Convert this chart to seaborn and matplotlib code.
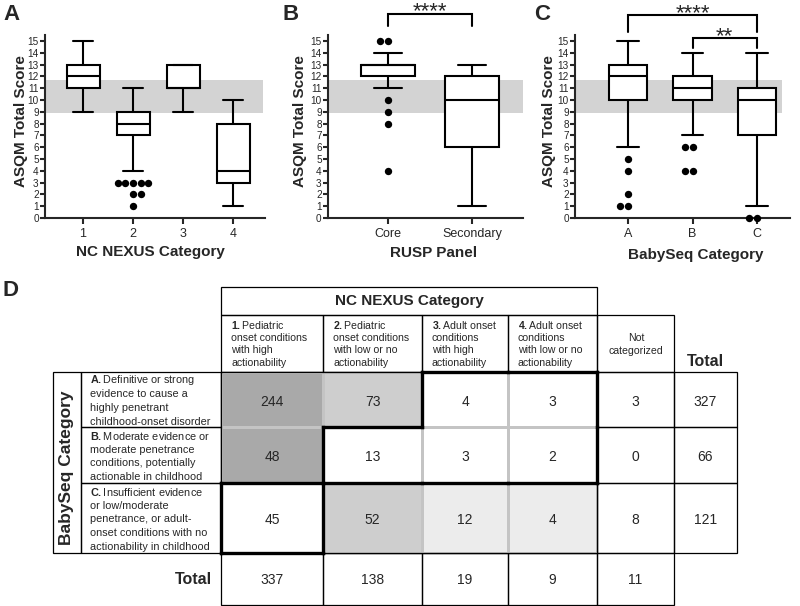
import numpy as np
import pandas as pd
import matplotlib
matplotlib.use("Agg")
import matplotlib.pyplot as plt
from matplotlib.colors import ListedColormap
from matplotlib.patches import Rectangle
import seaborn as sns

# ---- box panels: (min, Q1, median, Q3, max) ----
nexus_cats = ["1", "2", "3", "4"]
nexus_box = [[9, 11, 12, 13, 15],
             [4, 7, 8, 9, 11],
             [9, 11, 11, 13, 13],
             [1, 3, 4, 8, 10]]
nexus_out = {"2": [3, 3, 3, 3, 3, 2, 2, 1]}

rusp_cats = ["Core", "Secondary"]
rusp_box = [[11, 12, 13, 13, 14],
            [1, 6, 10, 12, 13]]
rusp_out = {"Core": [15, 15, 10, 9, 8, 4]}

babyseq_cats = ["A", "B", "C"]
babyseq_box = [[6, 10, 12, 13, 15],
               [7, 10, 11, 12, 14],
               [1, 7, 10, 11, 14]]
babyseq_out = {"A": [5, 4, 2, 1, 1], "B": [6, 6, 4, 4], "C": [0, 0]}

normal_band = (8.9, 11.7)

# ---- panel D table ----
nexus_headers = [
    [r"$\mathbf{1.}$Pediatric", "onset conditions", "with high", "actionability"],
    [r"$\mathbf{2.}$Pediatric", "onset conditions", "with low or no", "actionability"],
    [r"$\mathbf{3.}$Adult onset", "conditions", "with high", "actionability"],
    [r"$\mathbf{4.}$Adult onset", "conditions", "with low or no", "actionability"],
]
row_labels = [
    [r"$\mathbf{A.}$Definitive or strong", "evidence to cause a",
     "highly penetrant", "childhood-onset disorder"],
    [r"$\mathbf{B.}$Moderate evidence or", "moderate penetrance",
     "conditions, potentially", "actionable in childhood"],
    [r"$\mathbf{C.}$Insufficient evidence", "or low/moderate",
     "penetrance, or adult-", "onset conditions with no",
     "actionability in childhood"],
]
counts = np.array([[244, 73, 4, 3, 3],
                   [48, 13, 3, 2, 0],
                   [45, 52, 12, 4, 8]])
row_totals = [327, 66, 121]
col_totals = [337, 138, 19, 9, 11]
# concordance shading of the NC NEXUS x BabySeq cells (0 none .. 3)
shade = np.array([[2, 1, 0, 0],
                  [2, 0, 0, 0],
                  [0, 1, 3, 3]])
shade_colors = ["white", "#cecece", "#a9a9a9", "#ececec"]
# cells outlined with a heavy border
outlined = [[(0, 2), (0, 3), (1, 1), (1, 2), (1, 3)], [(2, 0)]]

# layout (pixels)
W, H = 800, 606
col_edges = [221, 323, 422, 508, 597, 674, 737]
row_edges = [372, 427, 483, 553, 605]

sns.set_style("ticks")
plt.rcParams["font.family"] = ["Liberation Sans", "DejaVu Sans"]
plt.rcParams["mathtext.fontset"] = "custom"
plt.rcParams["mathtext.rm"] = "Liberation Sans"
plt.rcParams["mathtext.bf"] = "Liberation Sans:bold"

fig = plt.figure(figsize=(W / 100, H / 100), dpi=100)
tab = fig.add_axes([0, 0, 1, 1])
tab.set_xlim(0, W)
tab.set_ylim(H, 0)
tab.axis("off")


def px_axes(l, t, r, b):
    return fig.add_axes([l / W, 1 - b / H, (r - l) / W, (b - t) / H])


def box_panel(ax, cats, box, outliers, width, capw, xlim, band_right,
              xlabel, xlab_pos, ylab_x):
    df = pd.DataFrame({"cat": np.repeat(cats, 5), "score": np.concatenate(box)})
    ax.axhspan(*normal_band, xmin=0, xmax=band_right, color="#d3d3d3",
               lw=0, zorder=0)
    sns.boxplot(data=df, x="cat", y="score", order=cats, whis=(0, 100),
                width=width, color="white", linecolor="black", linewidth=1.5,
                capwidths=capw, ax=ax)
    odf = pd.DataFrame([(k, v) for k, vals in outliers.items() for v in vals],
                       columns=["cat", "score"])
    sns.swarmplot(data=odf, x="cat", y="score", order=cats, color="black",
                  size=5.3, ax=ax, clip_on=False, zorder=4)
    ax.set_ylim(0, 15.5)
    ax.set_yticks(range(16))
    ax.set_xlim(*xlim)
    sns.despine(ax=ax)
    for s in ("left", "bottom"):
        ax.spines[s].set_linewidth(1.5)
    ax.tick_params(width=1.5, length=3.5, labelsize=7.2, pad=1)
    ax.tick_params(axis="x", labelsize=9, length=4, pad=3)
    ax.set_xlabel(xlabel, fontsize=11, fontweight="bold")
    ax.set_ylabel("ASQM Total Score", fontsize=11, fontweight="bold")
    ax.xaxis.label.set_va("center")
    ax.yaxis.label.set_va("center")
    ax.xaxis.set_label_coords(*xlab_pos)
    ax.yaxis.set_label_coords(ylab_x, 0.53)


def bracket(ax, x0, x1, top, bottom, stars, base):
    ax.plot([x0, x0, x1, x1], [bottom, top, top, bottom], color="black",
            lw=1.5, clip_on=False, solid_joinstyle="miter")
    ax.text((x0 + x1) / 2, base, stars, ha="center", va="baseline",
            fontsize=16, clip_on=False)


axA = px_axes(45, 35, 265, 218)
box_panel(axA, nexus_cats, nexus_box, nexus_out, 0.66, 0.4, (-0.76, 3.64),
          0.99, "NC NEXUS Category", (0.48, -0.186), -0.11)

axB = px_axes(328, 35, 523, 218)
box_panel(axB, rusp_cats, rusp_box, rusp_out, 0.65, 0.34, (-0.714, 1.607),
          1.0, "RUSP Panel", (0.54, -0.191), -0.144)
bracket(axB, 0, 1, 17.28, 16.26, "****", 16.99)

axC = px_axes(575, 35, 790, 218)
box_panel(axC, babyseq_cats, babyseq_box, babyseq_out, 0.6, 0.34, (-0.82, 2.51),
          0.963, "BabySeq Category", (0.56, -0.202), -0.12)
bracket(axC, 0, 2, 17.19, 15.75, "****", 16.81)
bracket(axC, 1, 2, 15.25, 14.4, "**", 14.87)

for lab, x, y in [("A", 12, 14), ("B", 291, 14), ("C", 542, 14), ("D", 10, 291)]:
    tab.text(x, y, lab, fontsize=16, fontweight="bold", ha="center", va="center")

# ---- table D ----
thin = dict(fill=False, ec="black", lw=0.9, zorder=3)
cx = [(a + b) / 2 for a, b in zip(col_edges[:-1], col_edges[1:])]
cy = [(a + b) / 2 for a, b in zip(row_edges[:-1], row_edges[1:])]

tab.pcolormesh(col_edges[:5], row_edges[:4], shade,
               cmap=ListedColormap(shade_colors), vmin=-0.5, vmax=3.5,
               edgecolors="#c4c4c4", linewidth=0.8, zorder=1)


def lines_text(x, yc, lines, pitch, size, ha="left"):
    n = len(lines)
    for i, s in enumerate(lines):
        tab.text(x, yc + (i - (n - 1) / 2) * pitch, s, ha=ha, va="center",
                 fontsize=size, zorder=5)


# header
tab.add_patch(Rectangle((221, 287), 597 - 221, 315 - 287, **thin))
tab.text(409, 301, "NC NEXUS Category", fontsize=11, fontweight="bold",
         ha="center", va="center")
for c in range(4):
    tab.add_patch(Rectangle((col_edges[c], 315), col_edges[c + 1] - col_edges[c],
                            372 - 315, **thin))
    lines_text(col_edges[c] + 10, 344, nexus_headers[c], 12.7, 7.6)
tab.add_patch(Rectangle((597, 315), 674 - 597, 372 - 315, **thin))
lines_text(636, 344.5, ["Not", "categorized"], 13, 7.6, ha="center")
tab.text(705, 361, "Total", fontsize=11.5, fontweight="bold", ha="center",
         va="center")

# row labels
tab.add_patch(Rectangle((53, 372), 81 - 53, 553 - 372, **thin))
tab.text(67, 468, "BabySeq Category", rotation=90, fontsize=12.5,
         fontweight="bold", ha="center", va="center")
for r in range(3):
    tab.add_patch(Rectangle((81, row_edges[r]), 221 - 81,
                            row_edges[r + 1] - row_edges[r], **thin))
    lines_text(90, cy[r] + 1.5, row_labels[r], 13.7, 7.8)

# not categorized + total column cells
for r in range(3):
    for c in (4, 5):
        tab.add_patch(Rectangle((col_edges[c], row_edges[r]),
                                col_edges[c + 1] - col_edges[c],
                                row_edges[r + 1] - row_edges[r], **thin))
# total row cells
for c in range(5):
    tab.add_patch(Rectangle((col_edges[c], row_edges[3]),
                            col_edges[c + 1] - col_edges[c],
                            row_edges[4] - row_edges[3] - 0.5, **thin))
tab.text(212, cy[3], "Total", fontsize=11.5, fontweight="bold", ha="right",
         va="center")

# numbers
for r in range(3):
    for c in range(5):
        tab.text(cx[c], cy[r] + 2, str(counts[r, c]), fontsize=10,
                 ha="center", va="center", zorder=5)
    tab.text(cx[5], cy[r] + 2, str(row_totals[r]), fontsize=10,
             ha="center", va="center", zorder=5)
for c in range(5):
    tab.text(cx[c], cy[3] + 1, str(col_totals[c]), fontsize=10,
             ha="center", va="center", zorder=5)

# heavy outlines around grouped cells
for group in outlined:
    cells = set(group)
    for (r, c) in cells:
        x0, x1 = col_edges[c], col_edges[c + 1]
        y0, y1 = row_edges[r], row_edges[r + 1]
        sides = [((r - 1, c), [x0, x1], [y0, y0]),
                 ((r + 1, c), [x0, x1], [y1, y1]),
                 ((r, c - 1), [x0, x0], [y0, y1]),
                 ((r, c + 1), [x1, x1], [y0, y1])]
        for nb, xs, ys in sides:
            if nb not in cells:
                tab.plot(xs, ys, color="black", lw=2.4,
                         solid_capstyle="projecting", zorder=4)

fig.savefig("out.png", dpi=100)
